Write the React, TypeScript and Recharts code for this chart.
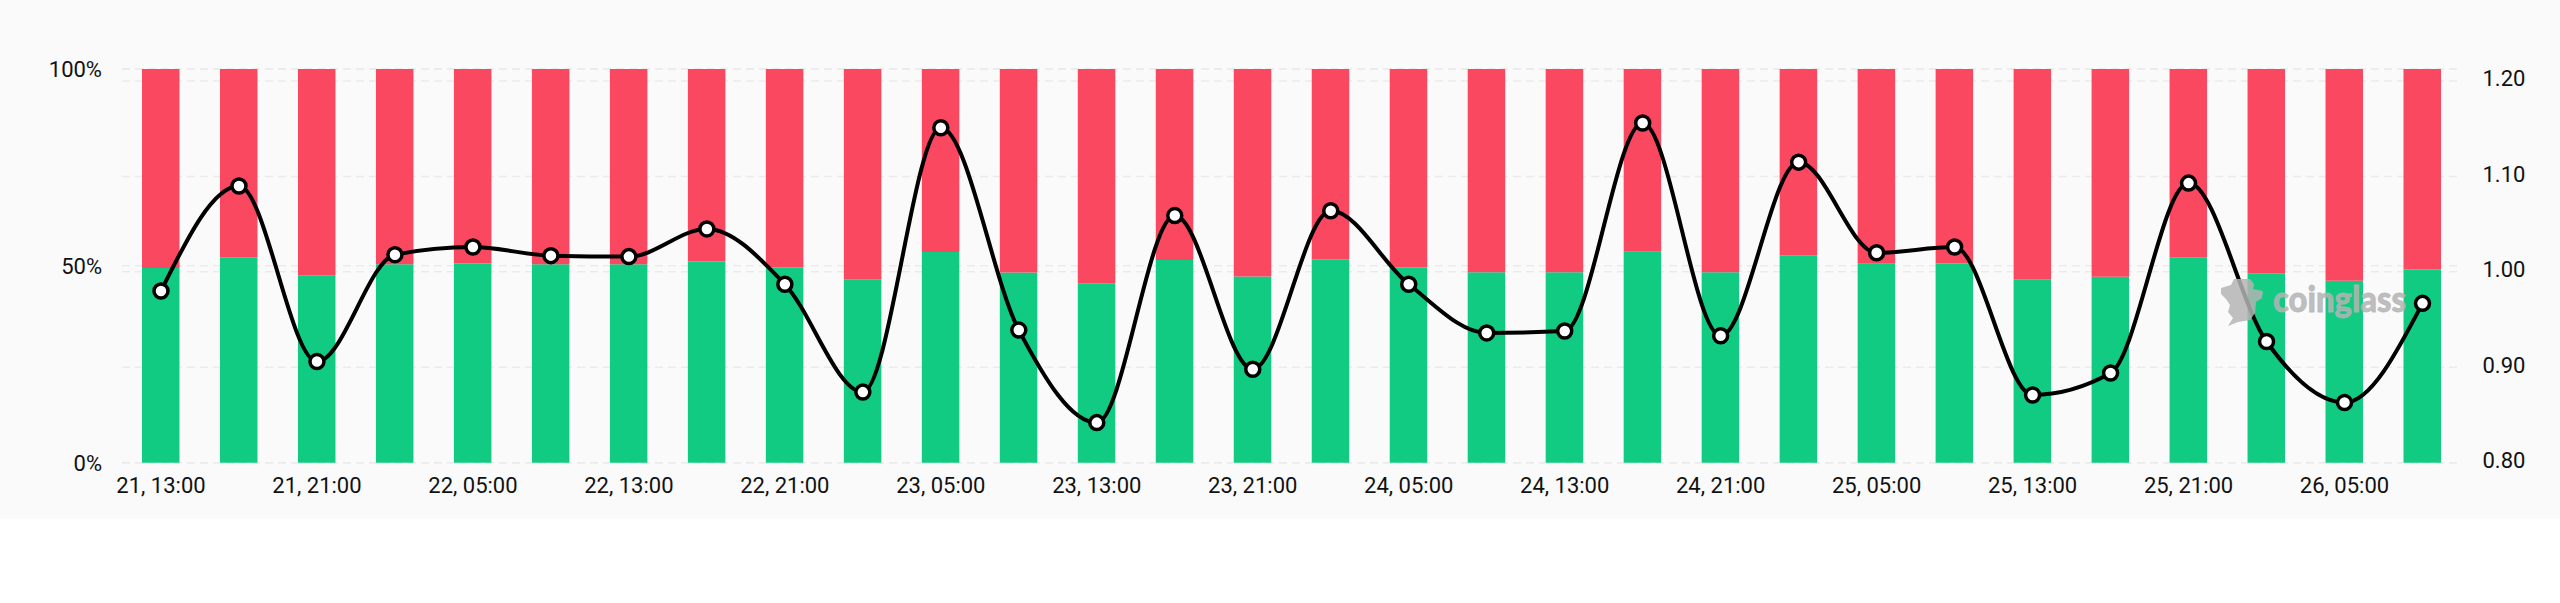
import {
  ComposedChart,
  Bar,
  Line,
  XAxis,
  YAxis,
  CartesianGrid,
} from "recharts";

const categories = [
  "21, 13:00", "21, 17:00", "21, 21:00", "22, 01:00", "22, 05:00", "22, 09:00",
  "22, 13:00", "22, 17:00", "22, 21:00", "23, 01:00", "23, 05:00", "23, 09:00",
  "23, 13:00", "23, 17:00", "23, 21:00", "24, 01:00", "24, 05:00", "24, 09:00",
  "24, 13:00", "24, 17:00", "24, 21:00", "25, 01:00", "25, 05:00", "25, 09:00",
  "25, 13:00", "25, 17:00", "25, 21:00", "26, 01:00", "26, 05:00", "26, 09:00",
];

const longPercent = [
  49.45, 52.2, 47.6, 50.4, 50.6, 50.4, 50.4, 51.1, 49.6, 46.6,
  53.5, 48.3, 45.6, 51.5, 47.3, 51.65, 49.6, 48.35, 48.35, 53.6,
  48.35, 52.7, 50.55, 50.6, 46.6, 47.2, 52.2, 48.1, 46.2, 49.1,
];

const shortPercent = [
  50.55, 47.8, 52.4, 49.6, 49.4, 49.6, 49.6, 48.9, 50.4, 53.4,
  46.5, 51.7, 54.4, 48.5, 52.7, 48.35, 50.4, 51.65, 51.65, 46.4,
  51.65, 47.3, 49.45, 49.4, 53.4, 52.8, 47.8, 51.9, 53.8, 50.9,
];

const longShortRatio = [
  0.98, 1.09, 0.906, 1.018, 1.026, 1.017, 1.016, 1.045, 0.987, 0.874,
  1.151, 0.939, 0.842, 1.059, 0.898, 1.064, 0.987, 0.936, 0.938, 1.156,
  0.933, 1.115, 1.02, 1.026, 0.871, 0.894, 1.093, 0.927, 0.863, 0.967,
];

const percentTicks = [0, 50, 100];
const ratioTicks = [0.8, 0.9, 1.0, 1.1, 1.2];

const rows = categories.map((time, i) => ({
  time,
  long: longPercent[i],
  short: shortPercent[i],
  ratio: longShortRatio[i],
}));

const FONT = "Roboto, sans-serif";
const TEXT = "#111111";
const GRID = "#ebebeb";

// sits on top of bars and line, same as the reference
function Watermark() {
  return (
    <svg
      width={2560}
      height={519}
      style={{ position: "absolute", left: 0, top: 0, pointerEvents: "none" }}
    >
      <g fill="#b4b4b4" fillOpacity={0.85}>
        <path d="M2234 279 L2250 279 L2254 284 L2253 289 L2263 291 L2262 298 L2256 302 L2255 313 L2250 320 L2238 322 L2228 326 L2233 318 L2228 312 L2230 305 L2226 299 L2221 294 L2221 288 L2231 285 Z" />
        <text
          x={2273}
          y={312}
          fontSize={36}
          fontWeight={900}
          fontFamily="Lato, sans-serif"
          textLength={133}
          lengthAdjust="spacingAndGlyphs"
          stroke="#b4b4b4"
          strokeOpacity={0.85}
          strokeWidth={0.8}
        >
          coinglass
        </text>
      </g>
    </svg>
  );
}

export default function App() {
  return (
    <div style={{ position: "absolute", left: 0, top: 0, width: 2560, height: 603, background: "#ffffff" }}>
      <div style={{ position: "relative", width: 2560, height: 519, background: "#fafafa" }}>
        <ComposedChart
          width={2560}
          height={519}
          data={rows}
          margin={{ top: 69, right: 0, bottom: 0, left: 0 }}
          style={{ fontFamily: FONT }}
        >
          <CartesianGrid yAxisId="left" vertical={false} stroke={GRID} strokeDasharray="8 5" strokeWidth={1.5} />
          <CartesianGrid yAxisId="right" vertical={false} stroke={GRID} strokeDasharray="8 5" strokeWidth={1.5} />
          <XAxis
            dataKey="time"
            interval={1}
            height={56.3}
            axisLine={false}
            tickLine={false}
            tickMargin={9}
            tick={{ fontSize: 22, fill: TEXT }}
          />
          <YAxis
            yAxisId="left"
            width={122}
            domain={[0, 100]}
            ticks={percentTicks}
            axisLine={false}
            tickLine={false}
            tickMargin={14}
            tickFormatter={(v: number) => `${v}%`}
            tick={{ fontSize: 22, fill: TEXT }}
          />
          <YAxis
            yAxisId="right"
            orientation="right"
            width={98.5}
            domain={[0.8, 1.2126]}
            ticks={ratioTicks}
            axisLine={false}
            tickLine={false}
            tickMargin={15}
            tickFormatter={(v: number) => v.toFixed(2)}
            tick={{ fontSize: 22, fill: TEXT, dy: -2.5 }}
          />
          <Bar yAxisId="left" dataKey="long" stackId="a" fill="#11CB82" barSize={37.5} isAnimationActive={false} />
          <Bar yAxisId="left" dataKey="short" stackId="a" fill="#FA4860" barSize={37.5} isAnimationActive={false} />
          <Line
            yAxisId="right"
            type="monotone"
            dataKey="ratio"
            stroke="#000000"
            strokeWidth={4}
            dot={{ r: 7, fill: "#ffffff", stroke: "#000000", strokeWidth: 3.5 }}
            isAnimationActive={false}
          />
        </ComposedChart>
        <Watermark />
      </div>
    </div>
  );
}
